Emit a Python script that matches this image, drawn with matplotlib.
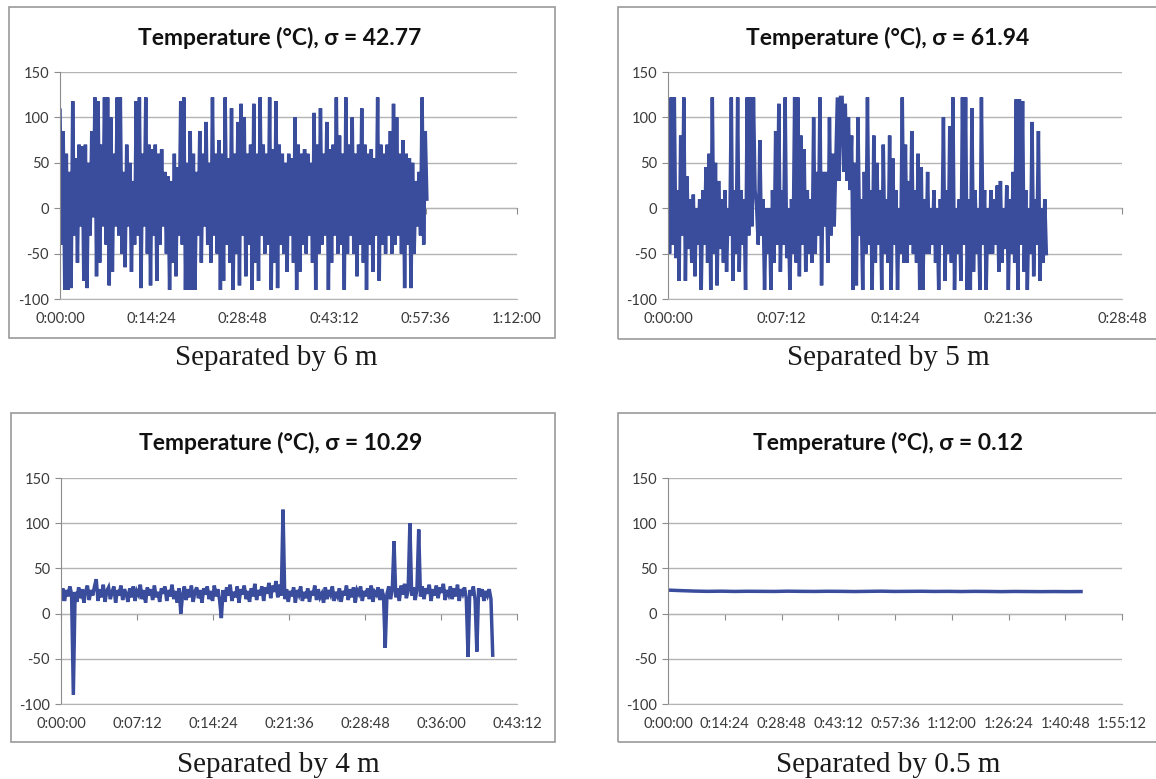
import numpy as np
import matplotlib
matplotlib.use("Agg")
import matplotlib.pyplot as plt
from matplotlib.patches import Rectangle
from matplotlib.ticker import FuncFormatter

plt.rcParams['axes.unicode_minus'] = False

# Temperature readings (deg C)
# separated by 6 m: 4 samples per minute, 0 to ~57.8 min
temp_6m = [
    108, -40, 85, -90, 60, -90, 40, -88, 118, -30, 55, -60, 70, -20, 68, -80,
    70, -88, 50, -30, 85, -10, 122, -75, 118, -60, 70, -20, 122, -40, 122, -85,
    100, -70, 60, -20, 122, -30, 122, -50, 40, -65, 70, -20, 50, -70, 30, -40,
    118, -30, 122, -88, 60, -20, 122, -50, 70, -85, 65, -30, 70, -80, 60, -40,
    65, -20, 40, -50, 35, -90, 30, -60, 60, -75, 45, -30, 118, -40, 122, -90,
    50, -90, 85, -90, 60, -90, 40, -30, 85, -60, 60, -20, 95, -40, 50, -60,
    122, -30, 60, -50, 75, -90, 60, -80, 122, -40, 55, -60, 110, -90, 60, -50,
    95, -85, 115, -30, 100, -75, 60, -40, 70, -90, 115, -60, 60, -80, 122, -30,
    70, -50, 60, -40, 122, -90, 65, -60, 118, -88, 70, -40, 60, -50, 50, -70,
    60, -30, 55, -60, 100, -90, 70, -70, 60, -40, 65, -50, 60, -30, 50, -60,
    105, -90, 70, -50, 110, -40, 60, -30, 95, -90, 65, -60, 70, -30, 122, -50,
    80, -40, 60, -90, 122, -50, 70, -30, 100, -50, 60, -75, 70, -40, 110, -60,
    70, -90, 60, -40, 65, -70, 55, -30, 122, -80, 70, -40, 60, -50, 70, -30,
    85, -50, 115, -40, 100, -30, 60, -50, 75, -88, 60, -40, 55, -88, 50, -50,
    30, -20, 40, -30, 122, -40, 85, 10,
]
end_6m = 57.8

# separated by 5 m: 10 samples per minute, 0 to ~24 min
temp_5m = [
    90, -50, 122, -40, 122, -55, 20, -80, 80, -30,
    122, -80, 35, -45, 10, -60, 15, -75, 0, -40,
    10, -90, 20, -40, 45, -60, 60, -90, 122, -50,
    50, -85, 30, -45, 10, -60, 20, -70, 0, -30,
    122, -80, 20, -50, 122, -70, 20, -40, 10, -90,
    122, -30, 122, -20, 122, 20, 0, -40, 75, -30,
    10, -90, 0, -50, 0, -90, 20, -60, 85, -40,
    115, -70, 20, -40, 122, -55, 0, -90, 10, -50,
    122, -60, 122, -75, 80, -40, 65, -70, 20, -50,
    10, -60, 100, -50, 40, -30, 122, -85, 40, -20,
    40, -60, 100, -30, 60, -20, 50, 122, 30, 122,
    122, 40, 115, 30, 100, 20, 80, -90, 50, -85,
    100, -30, 10, -90, 40, -50, 122, -40, 20, -90,
    80, -60, 50, -40, 20, -90, 70, -50, 10, -60,
    80, -90, 55, -40, 20, -90, 0, -50, 122, -60,
    70, -60, 30, -40, 85, -50, 20, -60, 60, -90,
    45, -90, 10, -50, 40, -50, 0, -40, 20, -60,
    0, -90, 10, -40, 100, -80, 20, -50, 90, -60,
    122, -90, 0, -50, 10, -80, 122, -40, 122, -90,
    10, -90, 110, -70, 20, -50, 0, -90, 122, -40,
    20, -90, 0, -50, 20, -50, 10, -40, 25, -70,
    30, -60, 0, -45, 25, -90, 10, -50, 40, -60,
    120, -90, 120, -40, 118, -70, 20, -90, 0, -50,
    95, -75, 10, -40, 85, -80, 0, -60, 10, -50,
]
end_5m = 24.0

# separated by 4 m: ~6 samples per minute, 0 to ~40.9 min
temp_4m = [
    16, 28, 14, 26, 19, 30, 22, -90, 24, 13,
    29, 17, 27, 12, 25, 31, 15, 26, 20, 30,
    38, 14, 27, 18, 32, 13, 25, 29, 16, 24,
    30, 12, 26, 20, 31, 15, 27, 22, 13, 28,
    18, 30, 14, 25, 21, 32, 16, 26, 12, 29,
    20, 27, 15, 31, 18, 24, 13, 28, 22, 30,
    14, 26, 19, 32, 16, 25, 12, 28, 0, 21,
    30, 15, 27, 18, 31, 13, 24, 29, 17, 26,
    12, 28, 21, 30, 16, 25, 14, 31, 19, 27,
    15, -5, 26, 13, 29, 20, 32, 14, 24, 18,
    30, 12, 27, 21, 31, 16, 25, 13, 28, 19,
    33, 15, 26, 20, 30, 14, 29, 22, 34, 17,
    31, 24, 36, 18, 32, 20, 115, 16, 27, 13,
    25, 19, 29, 12, 26, 21, 30, 14, 24, 17,
    28, 13, 25, 20, 31, 15, 27, 18, 22, 12,
    29, 16, 26, 21, 30, 14, 24, 19, 28, 13,
    25, 20, 31, 15, 27, 18, 29, 12, 26, 22,
    30, 14, 25, 19, 28, 16, 31, 13, 24, 21,
    29, 15, 27, 20, -38, 22, 30, 16, 26, 80,
    18, 28, 14, 31, 21, 33, 17, 26, 100, 20,
    29, 15, 27, 93, 19, 30, 16, 28, 22, 32,
    14, 27, 20, 31, 17, 29, 23, 33, 15, 26,
    21, 30, 16, 28, 19, 32, 14, 27, 22, 29,
    17, -48, 26, 20, 30, 15, -42, 28, 19, 27,
    14, 25, 20, 27, 16, -46,
]
end_4m = 40.9

# separated by 0.5 m: almost flat, 0 to ~104.8 min
temp_05m = [
    26.0, 25.4, 24.9, 24.6, 24.8, 24.5, 24.7, 24.6, 24.5, 24.8, 24.6, 24.5,
    24.7, 24.6, 24.4, 24.6, 24.8, 24.5, 24.6, 24.7, 24.5, 24.6, 24.4, 24.6,
    24.5, 24.3, 24.5, 24.4, 24.3, 24.4, 24.3, 24.4,
]
end_05m = 104.8

titles = ["Temperature (°C), σ = 42.77", "Temperature (°C), σ = 61.94",
          "Temperature (°C), σ = 10.29", "Temperature (°C), σ = 0.12"]
captions = ["Separated by 6 m", "Separated by 5 m", "Separated by 4 m", "Separated by 0.5 m"]
series = [temp_6m, temp_5m, temp_4m, temp_05m]
ends = [end_6m, end_5m, end_4m, end_05m]
xmax = [72.0, 28.8, 43.2, 115.2]
xstep = [14.4, 7.2, 7.2, 14.4]

W, H = 1156, 779
fig = plt.figure(figsize=(W / 100, H / 100), dpi=100)

# pixel layout: plot (left, right, top, bottom), box (l, t, r, b), title / caption positions
plots = [(60, 517, 72, 299), (668, 1122, 72, 299), (61, 517, 478, 704), (668, 1122, 478, 704)]
boxes = [(9, 7, 555, 338), (618, 7, 1170, 339), (11, 413, 555, 742), (618, 413, 1170, 742)]
title_y = [38, 38, 443, 443]
cap_y = [358, 358, 765, 765]
title_x = [280, 888, 281, 888]
cap_x = [276, 888, 278, 888]

line_col = '#3a4c9c'
grid_col = '#b4b4b4'
text_col = '#3a3a3a'


def hms(v, pos=None):
    s = int(round(v * 60))
    return f"{s // 3600}:{(s % 3600) // 60:02d}:{s % 60:02d}"


for k in range(4):
    l, t, r, b = boxes[k]
    fig.patches.append(Rectangle((l / W, 1 - b / H), (r - l) / W, (b - t) / H,
                                 transform=fig.transFigure, fill=False,
                                 edgecolor='#9a9a9a', linewidth=1.2))

    pl, pr, pt, pb = plots[k]
    ax = fig.add_axes([pl / W, 1 - pb / H, (pr - pl) / W, (pb - pt) / H])
    vals = np.array(series[k], dtype=float)
    tt = np.linspace(0, ends[k], len(vals))
    ax.plot(tt, vals, color=line_col, linewidth=2.5, solid_joinstyle='miter')

    ax.set_xlim(0, xmax[k])
    ax.set_ylim(-100, 150)
    ax.set_yticks(np.arange(-100, 151, 50))
    xt = np.arange(0, xmax[k] + 0.01, xstep[k])
    ax.set_xticks(xt)
    ax.xaxis.set_major_formatter(FuncFormatter(hms))
    ax.grid(axis='y', color=grid_col, linewidth=1.0)
    ax.set_axisbelow(True)
    for sp in ['top', 'right']:
        ax.spines[sp].set_visible(False)
    ax.spines['bottom'].set_color(grid_col)
    ax.spines['left'].set_color('#8c8c8c')
    ax.tick_params(axis='x', length=0, pad=9, labelsize=10.5, labelcolor=text_col)
    ax.tick_params(axis='y', length=4, color='#8c8c8c', pad=4, labelsize=10.5,
                   labelcolor=text_col)
    for lab in ax.get_xticklabels() + ax.get_yticklabels():
        lab.set_family(['Lato', 'DejaVu Sans'])

    # horizontal axis line crossing at 0 with tick marks
    zero_ax = ax.secondary_xaxis(0.4)
    zero_ax.set_xticks(xt)
    zero_ax.spines['bottom'].set_color('#8c8c8c')
    zero_ax.tick_params(axis='x', length=4, color='#8c8c8c', labelbottom=False)

    fig.text(title_x[k] / W, 1 - title_y[k] / H, titles[k], ha='center', va='center',
             fontsize=16.5, fontweight='bold', color='#111111', family=['Lato', 'DejaVu Sans'])
    fig.text(cap_x[k] / W, 1 - cap_y[k] / H, captions[k], ha='center', va='center',
             fontsize=21, color='#1a1a1a', family=['Liberation Serif', 'DejaVu Serif'])

fig.savefig('out.png', dpi=100)
